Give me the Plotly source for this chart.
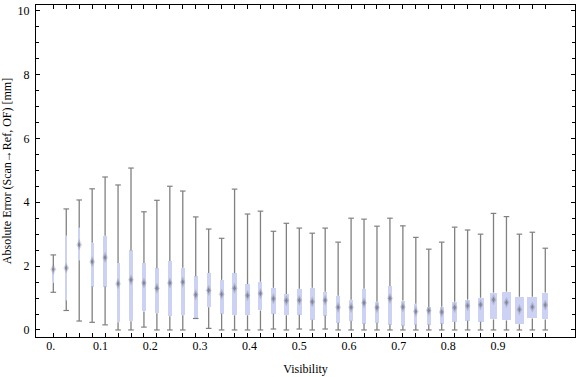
import numpy as np
import plotly.graph_objects as go

# 39 visibility bins spanning 0..1
visibility = np.linspace(0.0, 1.0, 39)

whisker_min = [1.18, 0.61, 0.28, 0.24, 0.16, 0.0, 0.0, 0.09, 0.0, 0.0, 0.0, 0.36, 0.05,
               0.0, 0.0, 0.0, 0.0, 0.03, 0.0, 0.03, 0.0, 0.03, 0.0, 0.0, 0.0, 0.0,
               0.0, 0.0, 0.0, 0.0, 0.0, 0.0, 0.0, 0.0, 0.0, 0.0, 0.0, 0.0, 0.0]
quart_1 = [1.49, 0.92, 2.18, 1.36, 1.36, 0.24, 0.27, 0.58, 0.52, 0.43, 0.46, 0.36, 0.71,
           0.51, 0.46, 0.46, 0.61, 0.51, 0.46, 0.48, 0.32, 0.45, 0.23, 0.29, 0.20, 0.23,
           0.17, 0.14, 0.17, 0.17, 0.20, 0.26, 0.29, 0.26, 0.33, 0.30, 0.18, 0.36, 0.33]
median = [1.90, 1.94, 2.67, 2.14, 2.27, 1.45, 1.57, 1.47, 1.31, 1.47, 1.50, 1.10, 1.24,
          1.12, 1.31, 1.08, 1.14, 0.98, 0.92, 0.93, 0.88, 0.93, 0.71, 0.71, 0.85, 0.70,
          0.99, 0.72, 0.58, 0.61, 0.56, 0.70, 0.76, 0.79, 0.95, 0.86, 0.64, 0.72, 0.78]
quart_3 = [1.99, 2.95, 3.21, 2.73, 2.95, 2.10, 2.49, 2.10, 1.93, 2.16, 1.95, 1.68, 1.78,
           1.57, 1.78, 1.44, 1.51, 1.32, 1.13, 1.29, 1.32, 1.20, 1.07, 0.95, 1.29, 0.88,
           1.38, 0.92, 0.82, 0.73, 0.73, 0.88, 0.95, 1.01, 1.17, 1.20, 1.04, 1.04, 1.17]
whisker_max = [2.35, 3.79, 4.07, 4.42, 4.79, 4.54, 5.07, 3.70, 4.06, 4.50, 4.35, 3.54, 3.16,
               2.87, 4.41, 3.63, 3.72, 3.09, 3.34, 3.19, 3.03, 3.19, 2.75, 3.50, 3.47, 3.25,
               3.50, 3.26, 2.90, 2.53, 2.75, 3.22, 3.13, 3.00, 3.65, 3.55, 3.00, 3.06, 2.56]
# relative box weight (drives box width)
box_weight = [1.0, 1.3, 2.3, 3.0, 3.3, 3.0, 3.3, 3.3, 3.3, 4.0, 3.7, 4.0, 4.0,
              4.0, 4.3, 4.3, 4.0, 4.7, 5.3, 5.0, 5.0, 4.0, 3.7, 4.0, 3.7, 3.7,
              4.0, 4.0, 3.3, 4.0, 3.7, 4.7, 4.7, 6.0, 7.0, 8.7, 9.0, 10.3, 5.7]

x_labels = ["0.", "0.1", "0.2", "0.3", "0.4", "0.5", "0.6", "0.7", "0.8", "0.9"]
y_ticks = [0, 2, 4, 6, 8, 10]

vis = np.asarray(visibility)
qa = np.asarray(quart_1)
qb = np.asarray(quart_3)
px_per_unit = 492.0
widths = np.asarray(box_weight) / px_per_unit

FONT = "Liberation Serif, Times New Roman, serif"
GRAY = "rgb(128,128,128)"
BOXC = "rgb(203,210,244)"

fig = go.Figure()

# whiskers
wx, wy = [], []
for v, lo, a, b, hi in zip(vis, whisker_min, quart_1, quart_3, whisker_max):
    wx += [v, v, None, v, v, None]
    wy += [lo, a, None, b, hi, None]
fig.add_trace(go.Scatter(x=wx, y=wy, mode="lines", line=dict(color=GRAY, width=1.3),
                         hoverinfo="skip", showlegend=False))
# caps
fig.add_trace(go.Scatter(x=list(vis) + list(vis), y=list(whisker_min) + list(whisker_max),
                         mode="markers",
                         marker=dict(symbol="line-ew", size=4, line=dict(color=GRAY, width=1.2)),
                         hoverinfo="skip", showlegend=False))
# boxes
fig.add_trace(go.Bar(x=vis, y=qb - qa, base=qa, width=widths,
                     marker=dict(color=BOXC, line=dict(width=0)), showlegend=False))
# medians (soft glow + core)
fig.add_trace(go.Scatter(x=vis, y=median, mode="markers",
                         marker=dict(symbol="diamond-tall", size=8, color="rgba(120,120,135,0.3)",
                                     line=dict(width=0)),
                         hoverinfo="skip", showlegend=False))
fig.add_trace(go.Scatter(x=vis, y=median, mode="markers",
                         marker=dict(symbol="diamond-tall", size=4, color="rgba(100,100,110,0.6)",
                                     line=dict(width=0)),
                         showlegend=False))
# invisible trace to activate x2
fig.add_trace(go.Scatter(x=[0], y=[0], xaxis="x2", mode="markers",
                         marker=dict(opacity=0), hoverinfo="skip", showlegend=False))

xr = [-0.0352, 1.0604]
fig.update_layout(
    width=576, height=377,
    margin=dict(l=36, r=1, t=5, b=40),
    paper_bgcolor="white", plot_bgcolor="white",
    font=dict(family=FONT, size=12, color="black"),
    bargap=0,
    xaxis=dict(range=xr, tickmode="array", tickvals=list(vis), showticklabels=False,
               ticks="inside", ticklen=4, tickwidth=1, tickcolor="black",
               showline=True, linecolor="black", linewidth=1, mirror="ticks",
               showgrid=False, zeroline=False),
    xaxis2=dict(range=xr, overlaying="x", anchor="y", side="bottom",
                tickmode="array", tickvals=[-0.005 + 0.101 * k for k in range(len(x_labels))],
                ticktext=x_labels, ticks="", showline=False, showgrid=False, zeroline=False,
                tickfont=dict(family=FONT, size=12),
                title=dict(text="Visibility", font=dict(family=FONT, size=12), standoff=12)),
    yaxis=dict(range=[-0.22, 10.175], tickmode="array", tickvals=y_ticks,
               ticktext=[str(t) for t in y_ticks],
               ticks="inside", ticklen=4, tickwidth=1, tickcolor="black",
               minor=dict(dtick=0.5, ticks="inside", ticklen=3, tickcolor="black", showgrid=False),
               showline=True, linecolor="black", linewidth=1, mirror="ticks",
               showgrid=False, zeroline=False, ticklabelstandoff=3,
               title=dict(text="Absolute Error (Scan→Ref, OF) [mm]",
                          font=dict(family=FONT, size=12), standoff=5)),
)
fig.update_xaxes(automargin=False)
fig.update_yaxes(automargin=False)

fig.write_html("out.html", config={"displayModeBar": False},
               post_script="document.body.style.margin='0';document.body.style.overflow='hidden';")
